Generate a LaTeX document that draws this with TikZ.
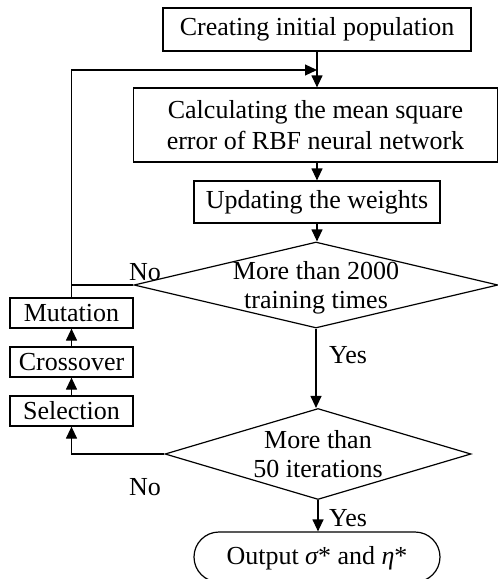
\documentclass[tikz,border=0pt]{standalone}
\usepackage{fontspec}
\setmainfont{Liberation Serif}
\usetikzlibrary{shapes.geometric,arrows.meta}
\begin{document}
\begin{tikzpicture}[x=1pt,y=-1pt,
  font=\fontsize{26}{28.5}\selectfont,
  box/.style={draw, line width=1.2pt, inner sep=0pt, align=center},
  dia/.style={draw, diamond, line width=1.2pt, inner sep=0pt},
  conn/.style={line width=1.2pt, -{Triangle[length=12pt,width=11pt]}},
  plain/.style={line width=1.2pt},
  lbl/.style={inner sep=0pt, align=center}]
\useasboundingbox (0,0) rectangle (498,579);
\node[box, minimum width=308pt, minimum height=43pt] (init) at (317,29.5) {Creating initial population};
\node[box, minimum width=364pt, minimum height=74pt] (calc) at (315.5,125) {Calculating the mean square\\[2pt]error of RBF neural network};
\node[box, minimum width=246pt, minimum height=42pt] (upd) at (317,202) {Updating the weights};
\node[dia, minimum width=364pt, minimum height=86pt] (d1) at (316,285) {};
\node[lbl] (t1) at (316,288) {More than 2000\\training times};
\node[dia, minimum width=306pt, minimum height=91pt] (d2) at (318,454) {};
\node[lbl] (t2) at (d2.center) {More than\\50 iterations};
\node[box, rounded corners=25pt, minimum width=246pt, minimum height=50pt] (out) at (317,557) {};
\node[lbl] (t3) at (317,558) {Output {\itshape σ}* and {\itshape η}*};
\node[box, minimum width=123pt, minimum height=30pt] (mut) at (71.5,313) {Mutation};
\node[box, minimum width=123pt, minimum height=30pt] (cro) at (71.5,362) {Crossover};
\node[box, minimum width=123pt, minimum height=30pt] (sel) at (71.5,411) {Selection};
\coordinate (lt) at (71.5,70);
\draw[conn] (init.south) -- (init.south |- calc.north);
\draw[conn] (init.south |- calc.south) -- (init.south |- upd.north);
\draw[conn] (upd.south) -- (upd.south |- d1.north);
\draw[conn] (d1.south) -- (d1.south |- d2.north);
\draw[conn] (d2.south) -- (d2.south |- out.north);
\draw[plain] (d1.west) -- (d1.west -| mut.north);
\draw[conn] (mut.north) -- (lt) -- (lt -| init.south);
\draw[conn] (sel.north) -- (cro.south);
\draw[conn] (cro.north) -- (mut.south);
\draw[conn] (d2.west) -| (sel.south);
\node[lbl] (no1) at (145,272) {No};
\node[lbl] (no2) at (145,487) {No};
\node[lbl] (yes1) at (348,355) {Yes};
\node[lbl] (yes2) at (348,518) {Yes};
\end{tikzpicture}
\end{document}
